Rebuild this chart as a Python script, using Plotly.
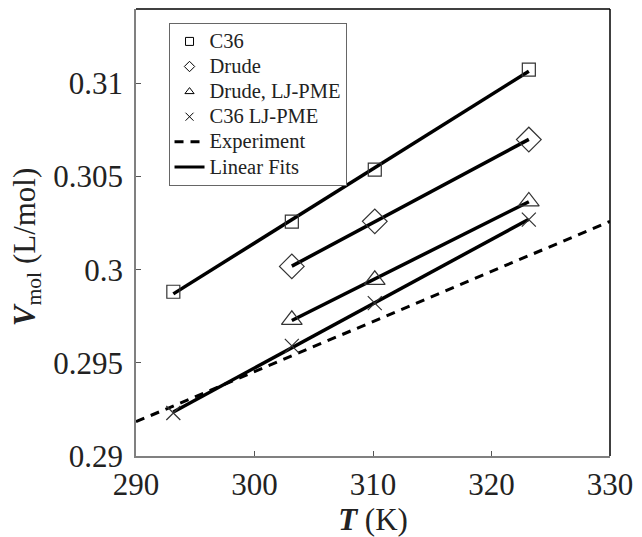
import numpy as np
import plotly.graph_objects as go

# Data
T = [293.15, 303.15, 310.15, 323.15]
T_drude = [303.15, 310.15, 323.15]
V_c36 = [0.29882, 0.30258, 0.30538, 0.31075]
V_drude = [0.30018, 0.30260, 0.30699]
V_drude_ljpme = [0.29731, 0.29946, 0.30367]
V_c36_ljpme = [0.29231, 0.29591, 0.29821, 0.30269]
T_exp = [290, 330]
V_exp = [0.29184, 0.30260]

y_ticks = [0.29, 0.295, 0.3, 0.305, 0.31]
y_ticktext = ["0.29", "0.295", "0.3", "0.305", "0.31"]
x_ticks = [290, 300, 310, 320, 330]

FONT = "Liberation Serif"
LEG = '<span style="font-size:20.5px">{}</span>'
fig = go.Figure()

# Experiment dashed line
fig.add_trace(go.Scatter(x=T_exp, y=V_exp, mode="lines",
                         line=dict(color="black", width=3, dash="9px,7px"),
                         showlegend=False))

series = [
    ("C36", T, V_c36, "square-open", 13),
    ("Drude", T_drude, V_drude, "diamond-open", 19),
    ("Drude, LJ-PME", T_drude, V_drude_ljpme, "triangle-up-open", 18),
    ("C36 LJ-PME", T, V_c36_ljpme, "x-thin-open", 14),
]

# Linear fits
for name, xs, ys, sym, sz in series:
    p = np.polyfit(xs, ys, 1)
    xf = np.array([min(xs), max(xs)])
    fig.add_trace(go.Scatter(x=xf, y=np.polyval(p, xf), mode="lines",
                             line=dict(color="black", width=3.5),
                             showlegend=False))

# Markers
for name, xs, ys, sym, sz in series:
    fig.add_trace(go.Scatter(x=xs, y=ys, mode="markers",
                             marker=dict(symbol=sym, size=sz, color="#333333",
                                         line=dict(width=1.2, color="#333333")),
                             showlegend=False))

# Legend entries
for name, xs, ys, sym, sz in series:
    fig.add_trace(go.Scatter(x=[None], y=[None], mode="markers", name=LEG.format(name),
                             marker=dict(symbol=sym, size=8, color="black",
                                         line=dict(width=1, color="black"))))
fig.add_trace(go.Scatter(x=[None], y=[None], mode="lines", name=LEG.format("Experiment"),
                         line=dict(color="black", width=3, dash="9px,7px")))
fig.add_trace(go.Scatter(x=[None], y=[None], mode="lines", name=LEG.format("Linear Fits"),
                         line=dict(color="black", width=3)))

fig.update_layout(
    width=642, height=537,
    margin=dict(l=136, r=25, t=9, b=80),
    plot_bgcolor="white", paper_bgcolor="white",
    font=dict(family=FONT, size=31, color="#222222"),
    legend=dict(x=0.0686, y=0.969, xanchor="left", yanchor="top",
                bgcolor="white", bordercolor="#666666", borderwidth=1,
                font=dict(family=FONT, size=17, color="#222222"),
                itemwidth=30, tracegroupgap=0),
    xaxis=dict(range=[290, 330], tickvals=x_ticks, showline=True,
               linecolor="#808080", linewidth=1.5, ticks="inside", ticklen=5,
               tickcolor="#555555", showgrid=False, zeroline=False,
               title=dict(text="<b><i>T</i></b> (K)", standoff=4,
                          font=dict(size=31))),
    yaxis=dict(range=[0.29, 0.314], tickvals=y_ticks, ticktext=y_ticktext,
               showline=True, linecolor="#808080", linewidth=1.5,
               ticks="inside", ticklen=5, tickcolor="#555555",
               ticklabelstandoff=5,
               showgrid=False, zeroline=False),
    annotations=[
        dict(text="<b><i>V</i></b><sub>mol</sub> (L/mol)", textangle=-90,
             xref="paper", yref="paper", x=-0.231, y=0.468,
             xanchor="center", yanchor="middle", showarrow=False,
             font=dict(family=FONT, size=31, color="#222222")),
    ],
    shapes=[
        dict(type="line", xref="paper", yref="paper", x0=0, x1=1, y0=1, y1=1,
             line=dict(color="black", width=1.5)),
        dict(type="line", xref="paper", yref="paper", x0=1, x1=1, y0=0, y1=1,
             line=dict(color="black", width=1.5)),
    ],
)

fig.write_html("out.html")
